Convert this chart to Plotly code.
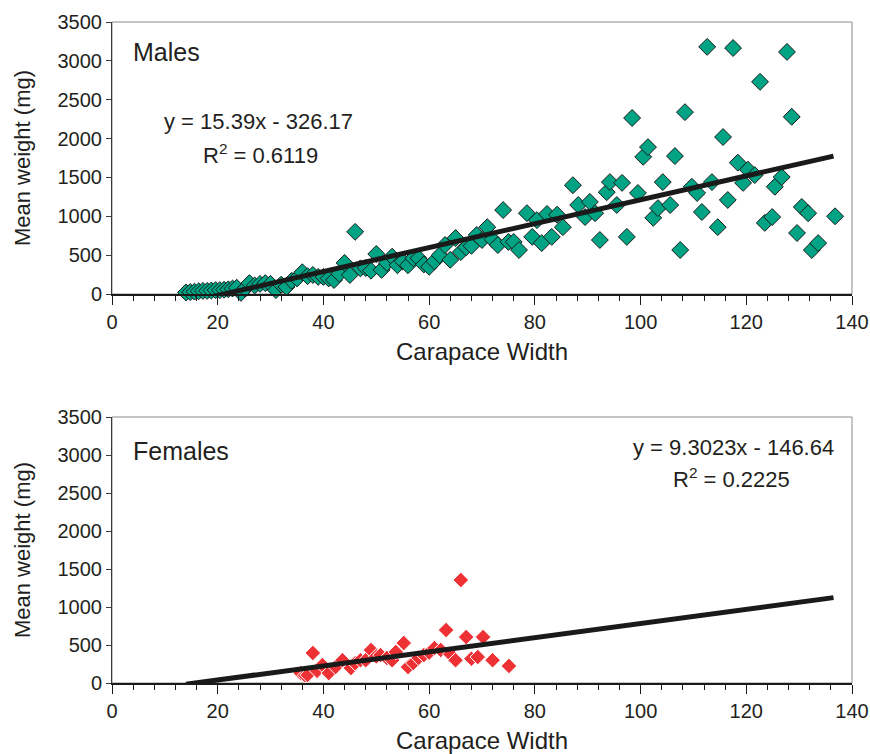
import plotly.graph_objects as go
from plotly.subplots import make_subplots

# ---- data ----
males_x = [14, 14.8, 15.6, 16.4, 17.2, 18, 18.8, 19.6, 20.4, 21.2, 22, 22.8, 23.6, 24.4, 25.2, 26, 27, 28, 29, 30, 31, 32, 33,
           34, 35, 36, 37, 38, 39, 40, 41, 42, 43, 44, 45, 46, 47, 48, 49, 50, 51, 52, 53, 54, 55,
           56, 57, 58, 59, 60, 61, 62, 63, 64, 65, 66, 67, 68, 69, 70, 71, 72, 73, 74, 75, 76, 77,
           78.5, 79.5, 80.4, 81.3, 82.3, 83.2, 84.2, 85.3, 87.2, 88.2, 89.5, 90.4, 91.4, 92.3, 93.6,
           94.2, 95.5, 96.5, 97.4, 98.4, 99.5, 100.5, 101.4, 102.4, 103.3, 104.2, 105.6, 106.5, 107.5,
           108.4, 109.7, 110.7, 111.6, 112.6, 113.5, 114.6, 115.6, 116.5, 117.5, 118.4, 119.4, 120.3,
           121.6, 122.6, 123.5, 124.9, 125.4, 126.7, 127.7, 128.6, 129.6, 130.5, 131.7, 132.4, 133.6, 136.8]
males_y = [20, 25, 30, 35, 40, 40, 45, 50, 50, 55, 60, 70, 80, 15, 70, 140, 110, 130, 140, 130, 50, 120, 90,
           170, 200, 280, 230, 245, 220, 220, 200, 180, 260, 400, 245, 800, 330, 335, 300, 515, 310, 400, 480, 370, 420,
           370, 460, 460, 380, 350, 420, 500, 630, 440, 720, 540, 600, 620, 760, 695, 860, 700, 630, 1080, 670, 670, 566,
           1040, 735, 950, 655, 1030, 735, 1020, 860, 1400, 1145, 990, 1185, 1040, 695, 1310,
           1440, 1145, 1430, 735, 2265, 1300, 1765, 1890, 980, 1105, 1440, 1145, 1775, 566,
           2340, 1380, 1300, 1055, 3180, 1440, 860, 2020, 1210, 3165, 1690, 1430, 1600,
           1530, 2730, 915, 990, 1380, 1505, 3115, 2280, 785, 1120, 1040, 566, 655, 1000]

females_x = [35.7, 36.5, 37, 38, 38.8, 39.8, 41, 42.3, 43.6, 45.2, 46, 47, 48, 49, 50, 50.8, 52, 53, 53.7,
             55.2, 56, 57, 58, 59, 60, 61, 62.2, 63.2, 64, 65, 66, 67, 68, 69.2, 70.2, 72, 75.1]
females_y = [130, 100, 105, 395, 160, 237, 130, 210, 300, 197, 260, 300, 300, 434, 350, 368, 330, 300, 408,
             526, 210, 263, 330, 368, 400, 460, 434, 697, 380, 300, 1355, 605, 320, 342, 605, 300, 224]

# trend lines (Excel linear fits as printed)
males_fit = [15.39, -326.17]
females_fit = [9.3023, -146.64]
fit_range = [14, 136.5]

x_ticks = [0, 20, 40, 60, 80, 100, 120, 140]
y_ticks = [0, 500, 1000, 1500, 2000, 2500, 3000, 3500]

FONT = "Liberation Sans, Arial, sans-serif"
TXT = "#231f20"

fig = make_subplots(rows=2, cols=1, vertical_spacing=0.186)

fig.add_trace(go.Scatter(x=males_x, y=males_y, mode="markers", cliponaxis=False,
                         marker=dict(symbol="diamond", size=13, color="#00a383",
                                     line=dict(color="#1a1a1a", width=1)),
                         showlegend=False), row=1, col=1)
fig.add_trace(go.Scatter(x=females_x, y=females_y, mode="markers", cliponaxis=False,
                         marker=dict(symbol="diamond", size=12, color="#ee3135",
                                     line=dict(color="white", width=1)),
                         showlegend=False), row=2, col=1)

for row, fit in ((1, males_fit), (2, females_fit)):
    fx = fit_range
    fy = [fit[0] * v + fit[1] for v in fx]
    fig.add_trace(go.Scatter(x=fx, y=fy, mode="lines",
                             line=dict(color="#1a1a1a", width=5),
                             hoverinfo="skip", showlegend=False), row=row, col=1)

for row in (1, 2):
    fig.update_xaxes(row=row, col=1, range=[0, 140], tickvals=x_ticks,
                     ticktext=[str(v) for v in x_ticks], automargin=False,
                     showgrid=False, zeroline=False, showline=True,
                     linecolor="#1a1a1a", linewidth=2,
                     ticks="outside", ticklen=9, tickwidth=1, tickcolor="#1a1a1a",
                     minor=dict(dtick=4, ticks="outside", ticklen=5, tickcolor="#1a1a1a", tickwidth=1),
                     tickfont=dict(family=FONT, size=20, color=TXT),
                     title=dict(text="Carapace Width", font=dict(family=FONT, size=24, color=TXT), standoff=11))
    fig.update_yaxes(row=row, col=1, range=[0, 3500], tickvals=y_ticks,
                     showgrid=False, zeroline=False, showline=True,
                     linecolor="#3a3a3a", linewidth=1,
                     ticks="outside", ticklen=5, tickwidth=1, tickcolor="#3a3a3a",
                     tickfont=dict(family=FONT, size=20, color=TXT),
                     title=dict(text="Mean weight (mg)", font=dict(family=FONT, size=22, color=TXT), standoff=20))

# grey frames
for xr, yr in (("x domain", "y domain"), ("x2 domain", "y2 domain")):
    fig.add_shape(type="rect", xref=xr, yref=yr, x0=0, x1=1, y0=0, y1=1,
                  line=dict(color="#8a8a8a", width=1), layer="below")

ann_font = dict(family=FONT, size=22, color=TXT)
fig.add_annotation(x=3.6, y=3115, xref="x", yref="y", text="Males", showarrow=False,
                   xanchor="left", font=dict(family=FONT, size=25, color=TXT))
fig.add_annotation(x=27.8, y=2214, xref="x", yref="y", text="y = 15.39x - 326.17",
                   showarrow=False, font=ann_font)
fig.add_annotation(x=28.0, y=1800, xref="x", yref="y", text="R<sup>2</sup> = 0.6119",
                   showarrow=False, font=ann_font)
fig.add_annotation(x=3.6, y=3053, xref="x2", yref="y2", text="Females", showarrow=False,
                   xanchor="left", font=dict(family=FONT, size=25, color=TXT))
fig.add_annotation(x=137, y=3105, xref="x2", yref="y2", text="y = 9.3023x - 146.64",
                   showarrow=False, xanchor="right", font=ann_font)
fig.add_annotation(x=117.2, y=2700, xref="x2", yref="y2", text="R<sup>2</sup> = 0.2225",
                   showarrow=False, font=ann_font)

fig.update_layout(width=870, height=754, paper_bgcolor="white", plot_bgcolor="white",
                  margin=dict(l=112, r=18, t=22, b=71), showlegend=False)
fig.update_layout(yaxis=dict(domain=[0.5885, 1.0]), yaxis2=dict(domain=[0.0, 0.4024]))

fig.write_html("out.html")
